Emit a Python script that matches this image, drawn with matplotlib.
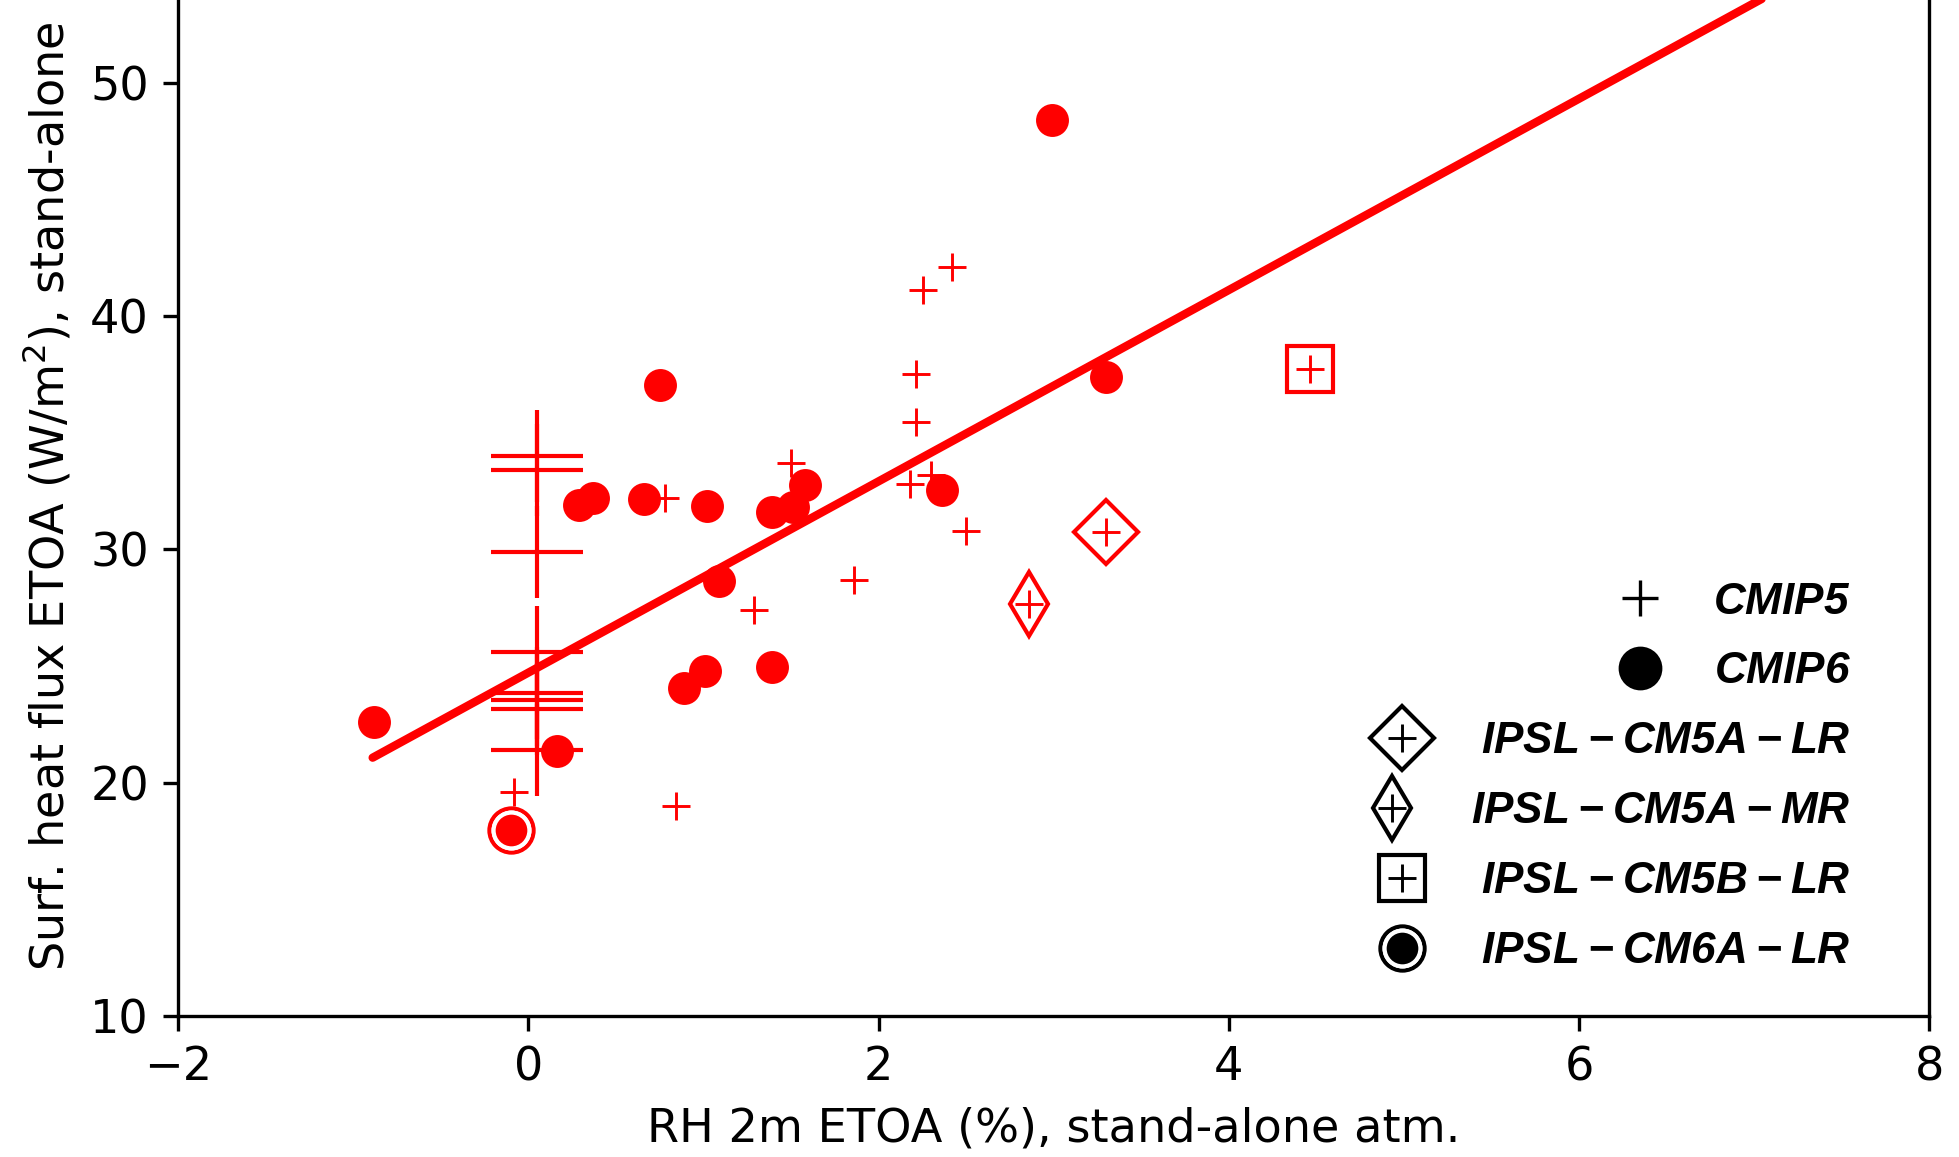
import matplotlib.pyplot as plt
from matplotlib.lines import Line2D

# CMIP5 models (small crosses)
cmip5_x = [2.42, 2.25, 2.21, 2.21, 2.18, 2.30, 2.50, 1.86, 1.50, 0.78, 1.29, 0.84, -0.08]
cmip5_y = [42.1, 41.1, 37.5, 35.45, 32.8, 33.2, 30.8, 28.7, 33.7, 32.2, 27.4, 19.0, 19.6]

# CMIP5 models drawn with the large crosses
cmip5_big_x = [0.05, 0.05, 0.05, 0.05, 0.05, 0.05, 0.05, 0.05]
cmip5_big_y = [34.0, 33.4, 29.9, 25.6, 23.85, 23.55, 23.15, 21.4]

# CMIP6 models
cmip6_x = [-0.88, 0.29, 0.37, 0.66, 1.02, 1.39, 1.51, 1.58, 1.09,
           0.89, 1.01, 1.39, 0.16, 0.75, 2.99, 3.30, 2.36]
cmip6_y = [22.6, 31.9, 32.2, 32.15, 31.85, 31.6, 31.8, 32.75, 28.65,
           24.05, 24.8, 24.95, 21.35, 37.05, 48.4, 37.4, 32.55]

# IPSL models
ipsl_names = ['IPSL-CM5A-LR', 'IPSL-CM5A-MR', 'IPSL-CM5B-LR', 'IPSL-CM6A-LR']
ipsl_x = [3.30, 2.86, 4.46, -0.10]
ipsl_y = [30.75, 27.65, 37.75, 17.95]
ipsl_markers = ['D', 'd', 's', 'o']

# linear fit
fit_slope = 4.10
fit_intercept = 24.72
fit_x = [-0.89, 8.0]

xticks = [-2, 0, 2, 4, 6, 8]
yticks = [10, 20, 30, 40, 50]

plt.rcParams['font.size'] = 11.1
plt.rcParams['mathtext.fontset'] = 'custom'
plt.rcParams['mathtext.bfit'] = 'Liberation Sans:italic:bold'

fig = plt.figure(figsize=(1959 / 300, 1157 / 300), dpi=300)
ax = fig.add_axes([0.0910, 0.1219, 0.8939, 0.8993])

fit_y = [fit_intercept + fit_slope * x for x in fit_x]
ax.plot(fit_x, fit_y, color='r', lw=2.0, solid_capstyle='round')

ax.plot(cmip5_big_x, cmip5_big_y, '+', color='r', ms=22, mew=1.0, ls='none')
ax.plot(cmip5_x, cmip5_y, '+', color='r', ms=6.5, mew=0.7, ls='none')
ax.plot(cmip6_x, cmip6_y, 'o', color='r', ms=7.5, mew=0.4, ls='none')

for name, x, y, m in zip(ipsl_names, ipsl_x, ipsl_y, ipsl_markers):
    if name.startswith('IPSL-CM5'):
        ax.plot(x, y, m, mfc='none', mec='r', ms=11, mew=1.0)
        ax.plot(x, y, '+', color='r', ms=6.5, mew=0.7)
    else:
        ax.plot(x, y, 'o', mfc='none', mec='r', ms=10.6, mew=1.0)
        ax.plot(x, y, 'o', mfc='r', mec='w', ms=8.6, mew=1.0)

ax.set_xlim(-2, 8)
ax.set_ylim(10, 54.6)
ax.set_xticks(xticks)
ax.set_yticks(yticks)
ax.set_xlabel('RH 2m ETOA (%), stand-alone atm.')
ax.set_ylabel('Surf. heat flux ETOA (W/m$^2$), stand-alone')

# legend with black proxy markers
h_cmip5 = Line2D([], [], marker='+', color='k', ms=8.5, mew=0.8, ls='none')
h_cmip6 = Line2D([], [], marker='o', color='k', ms=9.5, ls='none')
h_ipsl = []
for name, m in zip(ipsl_names, ipsl_markers):
    if name.startswith('IPSL-CM5'):
        h_ipsl.append((Line2D([], [], marker=m, mfc='none', mec='k', ms=11, mew=1.0, ls='none'),
                       Line2D([], [], marker='+', color='k', ms=6.5, mew=0.7, ls='none')))
    else:
        h_ipsl.append((Line2D([], [], marker='o', mfc='none', mec='k', ms=10.6, mew=1.0, ls='none'),
                       Line2D([], [], marker='o', mfc='k', mec='w', ms=8.6, mew=1.0, ls='none')))

leg_fs = 10.6
labels = [r'$\mathbfit{CMIP5}$', r'$\mathbfit{CMIP6}$'] + \
         [r'$\mathbfit{' + n + '}$' for n in ipsl_names]
leg = ax.legend([h_cmip5, h_cmip6] + h_ipsl, labels, loc='lower right',
                bbox_to_anchor=(0.955, 0.042), frameon=False, fontsize=leg_fs,
                borderpad=0, borderaxespad=0, labelspacing=0.61)
# right-align the legend rows, tighter gap for the first two entries
for col in leg._legend_handle_box.get_children():
    col.align = 'right'
    for row in col.get_children()[:2]:
        row.sep = 7.0

fig.savefig('out.png', dpi=300)
